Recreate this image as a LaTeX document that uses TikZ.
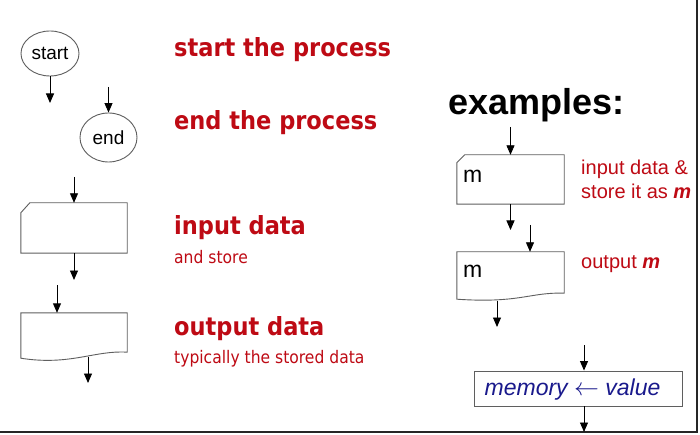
\documentclass[tikz,border=0pt]{standalone}
\usepackage{fontspec}
\setmainfont{Liberation Sans}
\newfontfamily\redfont{DejaVu Sans}[FakeStretch=0.9]
\usetikzlibrary{shapes.geometric,arrows.meta,calc}
\definecolor{redtxt}{RGB}{190,10,20}
\definecolor{bluetxt}{RGB}{25,25,140}
\definecolor{shapegray}{RGB}{95,95,95}
\begin{document}
\begin{tikzpicture}[x=1pt,y=-1pt,
  flow/.style={draw=shapegray, line width=0.9pt},
  term/.style={ellipse, flow, inner sep=0pt, font=\fontsize{19}{19}\selectfont},
  arr/.style={-{Triangle[width=8pt,length=9.5pt]}, line width=0.9pt, black},
  hole/.style={rectangle, draw=none, inner sep=0pt},
  bigred/.style={anchor=base west, inner sep=0pt, text=redtxt, font=\redfont\bfseries\fontsize{25}{28}\selectfont},
  smallred/.style={anchor=base west, inner sep=0pt, text=redtxt, font=\redfont\fontsize{17.3}{20}\selectfont},
  exred/.style={anchor=base west, inner sep=0pt, text=redtxt, font=\fontsize{20}{24}\selectfont},
  mtxt/.style={anchor=base west, inner sep=0pt, font=\fontsize{23}{26}\selectfont}]
\useasboundingbox (0,0) rectangle (700,435);
\fill[white] (0,0) rectangle (700,435);
% frame edges
\draw[line width=1.8pt, black!85] (0,432) -- (697,432) -- (697,0);

% ---- left column ----
\node[term, minimum width=58pt, minimum height=45pt] (start) at (50,53.5) {start};
\coordinate (startout) at (50,103);
\draw[arr] (start.south) -- (startout);

\node[term, minimum width=57pt, minimum height=49pt] (end) at (108.5,137.5) {end};
\coordinate (endin) at (108.5,87);
\draw[arr] (endin) -- (end.north);

% input shape
\node[hole, minimum width=106pt, minimum height=50pt] (in1) at (74,228) {};
\draw[flow] ($(in1.north west)+(0,10)$) -- ($(in1.north west)+(9,0)$) -- (in1.north east) -- (in1.south east) -- (in1.south west) -- cycle;
\coordinate (in1a) at (74,177);
\coordinate (in1b) at (74,280);
\draw[arr] (in1a) -- (in1.north);
\draw[arr] (in1.south) -- (in1b);

% output shape
\node[hole, minimum width=106pt, minimum height=39pt] (out1) at (74,332.5) {};
\draw[flow] (out1.north west) -- (out1.north east) -- (out1.south east)
  .. controls (95,350) and (70,366) .. ($(out1.south west)+(0,6)$) -- cycle;
\coordinate (out1a) at (57,285);
\coordinate (out1w) at (88,356.5);
\coordinate (out1b) at (88,383);
\draw[arr] (out1a) -- (out1a |- out1.north);
\draw[arr] (out1w) -- (out1b);

% labels
\node[bigred] (l1) at (174,57) {start the process};
\node[bigred] (l2) at (174,130) {end the process};
\node[bigred] (l3) at (174,235) {input data};
\node[smallred] (l3b) at (174,263) {and store};
\node[bigred] (l4) at (174,335) {output data};
\node[smallred] (l4b) at (174,363) {typically the stored data};

% ---- examples ----
\node[anchor=base west, inner sep=0pt, font=\bfseries\fontsize{36}{40}\selectfont] (ex) at (448,115) {examples:};

\node[hole, minimum width=107pt, minimum height=49pt] (in2) at (510.5,179.5) {};
\draw[flow] ($(in2.north west)+(0,8)$) -- ($(in2.north west)+(8,0)$) -- (in2.north east) -- (in2.south east) -- (in2.south west) -- cycle;
\node[mtxt] (m1) at (463,183) {m};
\coordinate (in2a) at (510.5,127);
\coordinate (in2b) at (510.5,230);
\draw[arr] (in2a) -- (in2.north);
\draw[arr] (in2.south) -- (in2b);
\node[exred] (e1) at (581,175) {input data \&};
\node[exred] (e2) at (581,199) {store it as \textbf{\textit{m}}};

\node[hole, minimum width=107pt, minimum height=41pt] (out2) at (510.5,272.5) {};
\draw[flow] (out2.north west) -- (out2.north east) -- (out2.south east)
  .. controls (530,292) and (520,303.5) .. ($(out2.south west)+(0,6)$) -- cycle;
\node[mtxt] (m2) at (463,277) {m};
\coordinate (out2a) at (530,225);
\coordinate (out2w) at (497,300.5);
\coordinate (out2b) at (497,327);
\draw[arr] (out2a) -- (out2a |- out2.north);
\draw[arr] (out2w) -- (out2b);
\node[exred] (e3) at (581,269) {output \textbf{\textit{m}}};

% memory box
\node[rectangle, flow, minimum width=208pt, minimum height=35pt, inner sep=0pt] (mem) at (578,388.5) {};
\node[anchor=base, inner sep=0pt, text=bluetxt, font=\itshape\fontsize{23}{26}\selectfont] (memtxt) at (572.5,395) {memory \ensuremath{\leftarrow} value};
\coordinate (memin) at (584,345);
\coordinate (memout) at (584,432);
\draw[arr] (memin) -- (memin |- mem.north);
\draw[arr] (memout |- mem.south) -- (memout);
\end{tikzpicture}
\end{document}
